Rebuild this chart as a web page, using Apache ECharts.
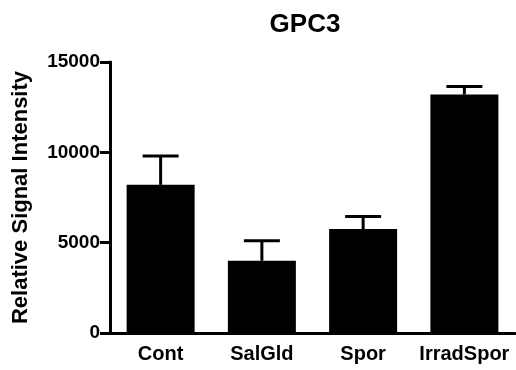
<!DOCTYPE html>
<html><head><meta charset="utf-8">
<script src="https://cdn.jsdelivr.net/npm/echarts@6/dist/echarts.min.js"></script>
<style>html,body{margin:0;padding:0;background:#fff}#c{width:516px;height:370px}</style>
</head><body><div id="c"></div>
<script>
var categories = ['Cont', 'SalGld', 'Spor', 'IrradSpor'];
var means = [8200, 4000, 5750, 13200];
var errors = [1600, 1100, 700, 450];
var yTicks = [0, 5000, 10000, 15000];

var chart = echarts.init(document.getElementById('c'), null, {renderer: 'canvas'});
var font = 'Liberation Sans, Arial, sans-serif';
var errData = categories.map(function (c, i) { return [i, means[i], means[i] + errors[i]]; });
chart.setOption({
  animation: false,
  backgroundColor: '#fff',
  title: {
    text: 'GPC3', left: 300, top: 7, textAlign: 'center',
    textStyle: {fontFamily: font, fontWeight: 'bold', fontSize: 26, color: '#000'}
  },
  grid: {left: 110, right: 1, top: 62, bottom: 37, containLabel: false},
  xAxis: {
    type: 'category', data: categories,
    axisLine: {lineStyle: {color: '#000', width: 3}},
    axisTick: {show: false},
    axisLabel: {interval: 0, fontFamily: font, fontWeight: 'bold', fontSize: 20, color: '#000', margin: 11}
  },
  yAxis: {
    type: 'value', min: yTicks[0], max: yTicks[yTicks.length - 1], interval: 5000,
    name: 'Relative Signal Intensity', nameLocation: 'middle', nameGap: 78, nameRotate: 90,
    nameTextStyle: {fontFamily: font, fontWeight: 'bold', fontSize: 22, color: '#000'},
    axisLine: {show: true, lineStyle: {color: '#000', width: 3}},
    axisTick: {show: true, length: 10, lineStyle: {color: '#000', width: 3}},
    splitLine: {show: false},
    axisLabel: {fontFamily: font, fontWeight: 'bold', fontSize: 19, color: '#000', margin: 10,
      formatter: function (v) { return String(v); }}
  },
  series: [{
    type: 'bar', data: means, barWidth: 68,
    itemStyle: {color: '#000'}, z: 2
  }, {
    type: 'custom', data: errData, z: 3,
    renderItem: function (params, api) {
      var x = api.value(0);
      var lo = api.coord([x, api.value(1)]);
      var hi = api.coord([x, api.value(2)]);
      var hw = 18;
      var st = {stroke: '#000', lineWidth: 3};
      return {type: 'group', children: [
        {type: 'line', shape: {x1: lo[0], y1: lo[1], x2: hi[0], y2: hi[1]}, style: st},
        {type: 'line', shape: {x1: hi[0] - hw, y1: hi[1], x2: hi[0] + hw, y2: hi[1]}, style: st}
      ]};
    }
  }]
});
</script></body></html>
